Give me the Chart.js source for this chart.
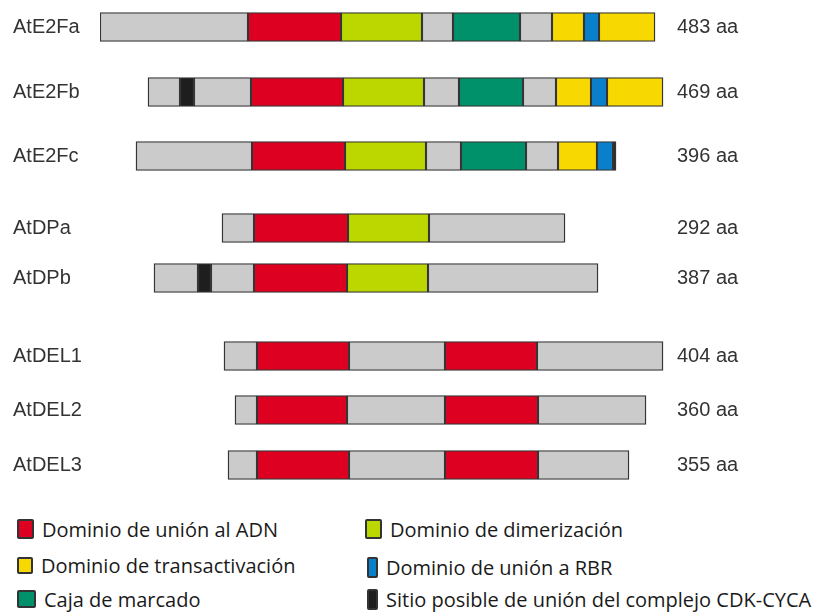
<!DOCTYPE html>
<html>
<head>
<meta charset="utf-8">
<script src="https://cdn.jsdelivr.net/npm/chart.js@4.4.1/dist/chart.umd.min.js"></script>
<style>
  body { margin: 0; background: #fff; }
  #wrap { position: relative; width: 823px; height: 616px; }
  #grafico { position: absolute; left: 0; top: 0; width: 823px; height: 500px; }
  .leyenda { position: absolute; display: flex; align-items: center;
             font-family: "Open Sans", sans-serif; font-size: 20px; color: #1a1a1a; white-space: nowrap; }
  .leyenda .caja { display: inline-block; border: 2px solid #333; border-radius: 2px; box-sizing: border-box; margin-right: 8px; }
</style>
</head>
<body>
<div id="wrap">
  <div id="grafico"><canvas id="graficoDominios"></canvas></div>
  <div id="leyendas"></div>
</div>
<script>
// proteinas y longitudes
const proteinas = ['AtE2Fa', 'AtE2Fb', 'AtE2Fc', 'AtDPa', 'AtDPb', 'AtDEL1', 'AtDEL2', 'AtDEL3'];
const longitudes = [483, 469, 396, 292, 387, 404, 360, 355];

// segmentos: [fila, inicio, fin] en unidades del esquema
const regionesOtras = [
  [0, 0, 148], [0, 322, 353], [0, 420, 452],
  [1, 48, 80], [1, 94, 151], [1, 324, 359], [1, 423, 456],
  [2, 36, 152], [2, 326, 361], [2, 426, 458],
  [3, 122, 154], [3, 329, 465],
  [4, 54, 98], [4, 111, 154], [4, 328, 498],
  [5, 124, 157], [5, 249, 345], [5, 437, 563],
  [6, 135, 157], [6, 247, 345], [6, 438, 546],
  [7, 128, 157], [7, 249, 345], [7, 438, 529]
];
const unionADN = [
  [0, 148, 241], [1, 151, 243], [2, 152, 245], [3, 154, 248], [4, 154, 247],
  [5, 157, 249], [5, 345, 437], [6, 157, 247], [6, 345, 438], [7, 157, 249], [7, 345, 438]
];
const dimerizacion = [[0, 241, 322], [1, 243, 324], [2, 245, 326], [3, 248, 329], [4, 247, 328]];
const transactivacion = [[0, 452, 484], [0, 499, 555], [1, 456, 491], [1, 507, 563], [2, 458, 497]];
const unionRBR = [[0, 484, 499], [1, 491, 507], [2, 497, 513]];
const cajaMarcado = [[0, 353, 420], [1, 359, 423], [2, 361, 426]];
const sitioCDK = [[1, 80, 94], [2, 513, 516], [4, 98, 111]];

// posicion vertical de cada fila (maquetacion)
const filaY = [27, 92, 156, 228, 278, 356, 410, 465];

const colores = {
  otras: '#cbcbcb', adn: '#de0020', dim: '#bcd700', trans: '#f7d800',
  rbr: '#0a80cc', caja: '#00906a', cdk: '#1e1e1e'
};

function aPuntos(lista) {
  return lista.map(s => ({ y: filaY[s[0]], x: [s[1], s[2]] }));
}

function crearDataset(nombre, lista, color) {
  return {
    label: nombre,
    data: aPuntos(lista),
    backgroundColor: color,
    borderColor: '#353535',
    borderWidth: 1.4,
    borderSkipped: false,
    grouped: false,
    barThickness: 29
  };
}

// sin margen extra arriba/abajo por las etiquetas
function ajustarEje(ancho) {
  return s => { s.width = ancho; s.paddingTop = 0; s.paddingBottom = 0; };
}

const ctx = document.getElementById('graficoDominios');

new Chart(ctx, {
  type: 'bar',
  data: {
    datasets: [
      crearDataset('Otras regiones', regionesOtras, colores.otras),
      crearDataset('Dominio de unión al ADN', unionADN, colores.adn),
      crearDataset('Dominio de dimerización', dimerizacion, colores.dim),
      crearDataset('Dominio de transactivación', transactivacion, colores.trans),
      crearDataset('Dominio de unión a RBR', unionRBR, colores.rbr),
      crearDataset('Caja de marcado', cajaMarcado, colores.caja),
      crearDataset('Sitio posible de unión del complejo CDK-CYCA', sitioCDK, colores.cdk)
    ]
  },
  options: {
    indexAxis: 'y',
    responsive: true,
    maintainAspectRatio: false,
    animation: false,
    layout: { padding: { left: 13, right: 0, top: 0, bottom: 0 } },
    plugins: { legend: { display: false }, tooltip: { enabled: false } },
    scales: {
      x: { type: 'linear', min: 0, max: 565, display: false },
      y: {
        type: 'linear', position: 'left', reverse: true, min: 0, max: 500, offset: false,
        grid: { display: false, drawTicks: false }, border: { display: false },
        afterBuildTicks: s => { s.ticks = filaY.map(v => ({ value: v })); },
        afterFit: ajustarEje(87),
        ticks: {
          crossAlign: 'far', color: '#333',
          font: { family: 'Liberation Sans, Arial', size: 20 },
          callback: v => proteinas[filaY.indexOf(v)]
        }
      },
      y2: {
        type: 'linear', position: 'right', reverse: true, min: 0, max: 500, offset: false,
        grid: { display: false, drawTicks: false }, border: { display: false },
        afterBuildTicks: s => { s.ticks = filaY.map(v => ({ value: v })); },
        afterFit: ajustarEje(158),
        ticks: {
          padding: 12, color: '#333',
          font: { family: 'Liberation Sans, Arial', size: 20 },
          callback: v => longitudes[filaY.indexOf(v)] + ' aa'
        }
      }
    }
  }
});

// === LEYENDA === //
const leyendaTextos = ['Dominio de unión al ADN', 'Dominio de dimerización', 'Dominio de transactivación',
  'Dominio de unión a RBR', 'Caja de marcado', 'Sitio posible de unión del complejo CDK-CYCA'];
const leyendaColores = [colores.adn, colores.dim, colores.trans, colores.rbr, colores.caja, colores.cdk];
const leyendaPos = [[17, 529], [365, 529], [17, 565], [367, 567], [17, 599], [367, 599]];
const leyendaCaja = [[17, 20], [17, 20], [16, 17], [11, 21], [19, 18], [11, 21]];

const cont = document.getElementById('leyendas');
leyendaTextos.forEach((t, i) => {
  const d = document.createElement('div');
  d.className = 'leyenda';
  d.style.left = leyendaPos[i][0] + 'px';
  d.style.top = (leyendaPos[i][1] - 14) + 'px';
  d.style.height = '28px';
  const c = document.createElement('span');
  c.className = 'caja';
  c.style.width = leyendaCaja[i][0] + 'px';
  c.style.height = leyendaCaja[i][1] + 'px';
  c.style.background = leyendaColores[i];
  d.appendChild(c);
  d.appendChild(document.createTextNode(t));
  cont.appendChild(d);
});
</script>
</body>
</html>
